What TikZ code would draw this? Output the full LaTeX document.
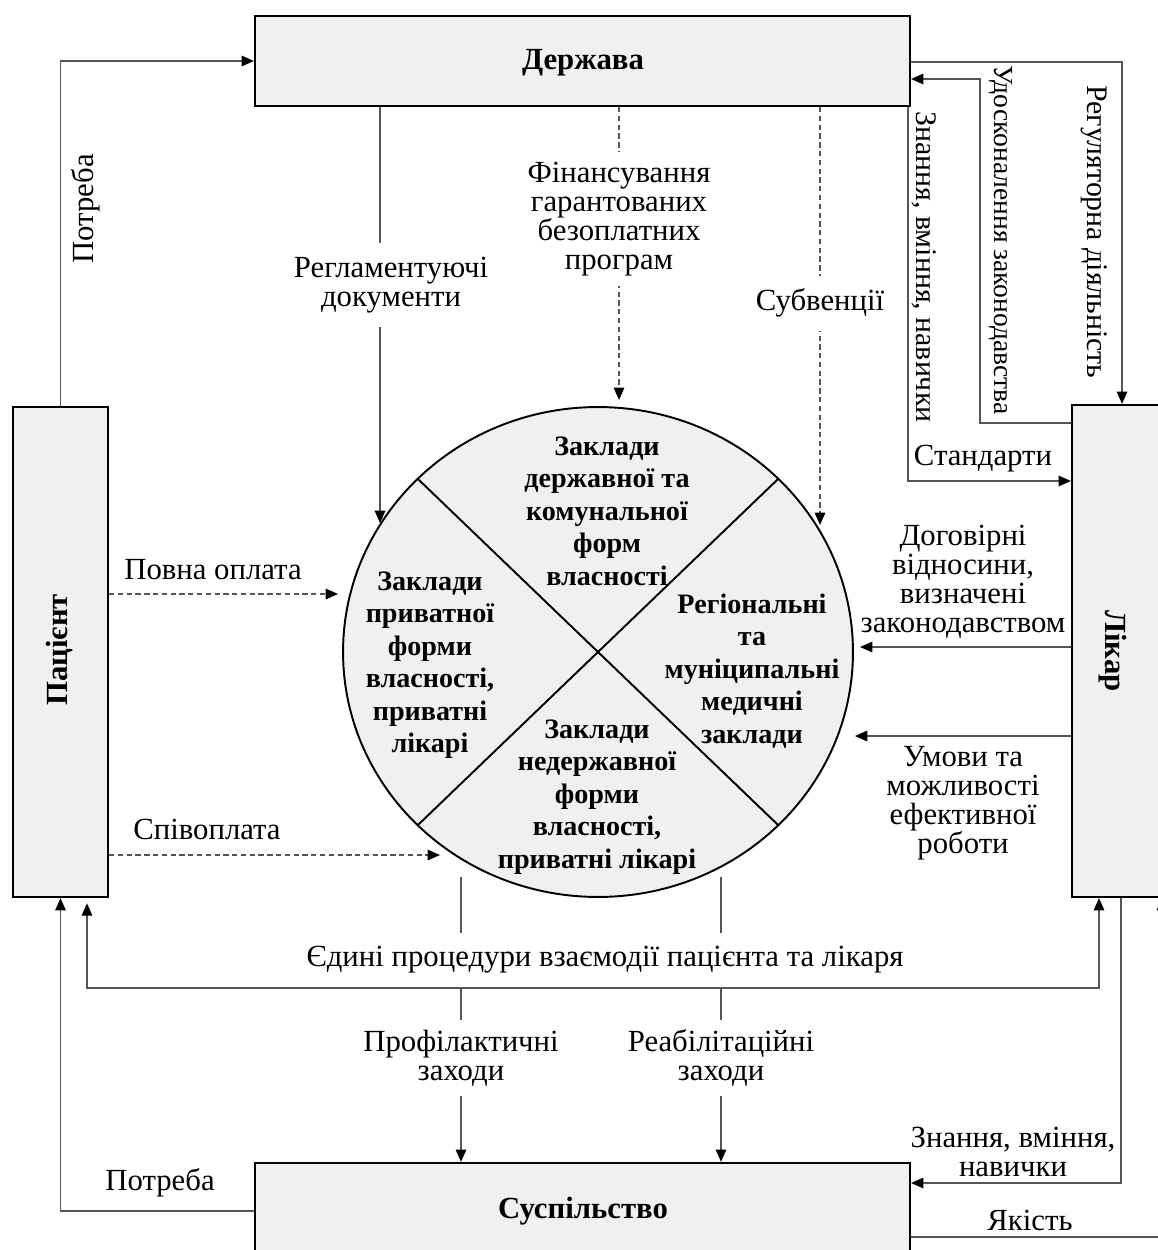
\documentclass[tikz,border=0pt]{standalone}
\usepackage{fontspec}
\setmainfont{Liberation Serif}
\usetikzlibrary{arrows.meta,shapes.geometric,calc}

\definecolor{boxgray}{RGB}{240,240,240}
\definecolor{linegray}{RGB}{85,85,85}

\begin{document}
\begin{tikzpicture}[
  x=0.02cm, y=-0.02cm,
  box/.style={draw=black, line width=1.3pt, fill=boxgray, inner sep=0pt},
  title/.style={font=\fontsize{17.5pt}{18pt}\selectfont\bfseries},
  conn/.style={draw=linegray, line width=0.7pt,
    -{Triangle[length=7pt,width=6pt,color=black]}},
  dconn/.style={conn, dash pattern=on 3pt off 2pt},
  both/.style={draw=linegray, line width=0.7pt,
    {Triangle[length=7pt,width=6pt,color=black]}-{Triangle[length=7pt,width=6pt,color=black]}},
  lbl/.style={font=\fontsize{17.5pt}{16.4pt}\selectfont, align=center, inner sep=1pt},
  vlbl/.style={lbl, inner sep=0pt},
  gap/.style={lbl, fill=white, inner xsep=2pt, inner ysep=7pt},
  sector/.style={font=\fontsize{16pt}{18.5pt}\selectfont\bfseries, align=center, inner sep=0pt}
]
\useasboundingbox (0,0) rectangle (1157,1250);

% ---- main blocks ----
\node[box, minimum width=13.1cm, minimum height=1.8cm] (derzhava) at (582.5,61) {};
\node[title] (derzhavaT) at (583,63) {Держава};
\node[box, minimum width=1.9cm, minimum height=9.8cm] (pacient) at (60.5,652) {};
\node[title, rotate=90] (pacientT) at (60,650) {Пацієнт};
\node[box, minimum width=2.56cm, minimum height=9.84cm] (likar) at (1136,651) {};
\node[title, rotate=-90] (likarT) at (1113,651) {Лікар};
\node[box, minimum width=13.1cm, minimum height=1.92cm] (suspil) at (582.5,1211) {};
\node[title] (suspilT) at (583,1211) {Суспільство};

% ---- the circle with four sectors ----
\node[draw=black, line width=1.1pt, fill=boxgray, ellipse, inner sep=0pt,
      minimum width=10.2cm, minimum height=9.8cm] (circ) at (598,652) {};
\draw[black, line width=1.1pt]
  ($(circ.center)+(135:5.1cm and 4.9cm)$) -- ($(circ.center)+(-45:5.1cm and 4.9cm)$);
\draw[black, line width=1.1pt]
  ($(circ.center)+(45:5.1cm and 4.9cm)$) -- ($(circ.center)+(-135:5.1cm and 4.9cm)$);
\node[sector] (secT) at (607,511) {Заклади\\державної та\\комунальної\\форм\\власності};
\node[sector] (secL) at (430,665) {Заклади\\приватної\\форми\\власності,\\приватні\\лікарі};
\node[sector] (secR) at (752,671) {Регіональні\\та\\муніципальні\\медичні\\заклади};
\node[sector] (secB) at (597,797) {Заклади\\недержавної\\форми\\власності,\\приватні лікарі};

% ---- from the state to the institutions ----
\coordinate (regE) at (380,523);
\coordinate (finE) at (619,400);
\coordinate (subE) at (820,525);
\draw[conn] (regE |- derzhava.south) -- (regE);
\draw[dconn] (finE |- derzhava.south) -- (finE);
\draw[dconn] (subE |- derzhava.south) -- (subE);
\node[gap, inner ysep=8pt] (regL) at (391,285) {Регламентуючі\\документи};
\node[gap, inner ysep=6pt] (finL) at (619,219) {Фінансування\\гарантованих\\безоплатних\\програм};
\node[gap, inner ysep=7.5pt] (subL) at (820,303) {Субвенції};

% ---- patient payments ----
\coordinate (poE) at (338,594);
\coordinate (spE) at (440,855);
\draw[dconn] (poE -| pacient.east) -- (poE);
\draw[dconn] (spE -| pacient.east) -- (spE);
\node[lbl] (poL) at (213,570) {Повна оплата};
\node[lbl] (spL) at (207,829) {Співоплата};

% ---- doctor to institutions ----
\coordinate (dvE) at (860,647);
\coordinate (umE) at (855,736);
\draw[conn] (dvE -| likar.west) -- (dvE);
\draw[conn] (umE -| likar.west) -- (umE);
\node[lbl] (dvL) at (963,582) {Договірні\\відносини,\\визначені\\законодавством};
\node[lbl] (umL) at (963,803) {Умови та\\можливості\\ефективної\\роботи};

% ---- state and doctor ----
\coordinate (rgX) at (1122,62);
\coordinate (udX) at (980,79);
\coordinate (udY) at (1000,423);
\coordinate (stX) at (908,481);
\draw[conn] (rgX -| derzhava.east) -- (rgX) -- (rgX |- likar.north);
\draw[conn] (udY -| likar.west) -- (udX |- udY) -- (udX) -- (udX -| derzhava.east);
\draw[conn] (stX |- derzhava.south) -- (stX) -- (stX -| likar.west);
\node[vlbl, rotate=-90, font=\fontsize{17pt}{17pt}\selectfont] (rgL) at (1094,232) {Регуляторна діяльність};
\node[vlbl, rotate=-90, font=\fontsize{15.7pt}{16pt}\selectfont] (udL) at (1001,240) {Удосконалення законодавства};
\node[vlbl, rotate=-90, font=\fontsize{17pt}{17pt}\selectfont] (znL) at (924,267) {Знання, вміння, навички};
\node[lbl] (stL) at (983,459) {Стандарти};

% ---- patient and state ----
\draw[conn] (pacient.north) |- (derzhava.west);
\node[lbl, rotate=90] (ptL) at (86,209) {Потреба};

% ---- institutions to society ----
\coordinate (pfS) at (461,877);
\coordinate (rbS) at (721,877);
\draw[conn] (pfS) -- (pfS |- suspil.north);
\draw[conn] (rbS) -- (rbS |- suspil.north);
\node[gap, inner ysep=7.5pt] (edL) at (605,960) {Єдині процедури взаємодії пацієнта та лікаря};
\node[gap, inner ysep=5.6pt] (pfL) at (461,1058) {Профілактичні\\заходи};
\node[gap, inner ysep=5.6pt] (rbL) at (721,1058) {Реабілітаційні\\заходи};

% ---- common procedures between patient and doctor ----
\coordinate (edA) at (87,988);
\coordinate (edB) at (1099,988);
\draw[both, shorten <=3pt] (edA |- pacient.south) -- (edA) -- (edB) -- (edB |- likar.south);

% ---- society loops ----
\draw[conn] (suspil.west) -| (pacient.south);
\node[lbl] (pbL) at (160,1183) {Потреба};
\coordinate (zbX) at (1121,1183);
\draw[conn] (zbX |- likar.south) -- (zbX) -- (zbX -| suspil.east);
\node[lbl] (zbL) at (1013,1152) {Знання, вміння,\\навички};
\coordinate (ykX) at (1162,1237);
\draw[conn] (ykX -| suspil.east) -- (ykX) -- (ykX |- likar.south);
\node[lbl] (ykL) at (1030,1220) {Якість};
\end{tikzpicture}
\end{document}
